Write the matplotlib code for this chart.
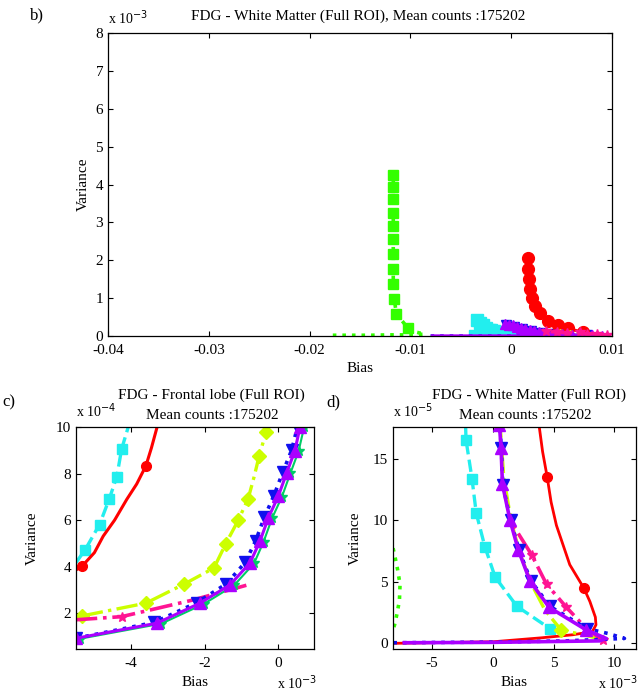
import matplotlib
matplotlib.use("Agg")
import matplotlib.pyplot as plt
import numpy as np

plt.rcParams['font.family'] = ['Liberation Serif', 'DejaVu Serif']
plt.rcParams['font.size'] = 11
plt.rcParams['axes.unicode_minus'] = False
plt.rcParams['xtick.direction'] = 'in'
plt.rcParams['ytick.direction'] = 'in'
plt.rcParams['xtick.top'] = True
plt.rcParams['ytick.right'] = True
plt.rcParams['xtick.major.size'] = 3.5
plt.rcParams['ytick.major.size'] = 3.5
plt.rcParams['axes.linewidth'] = 0.9

title_wm = "FDG - White Matter (Full ROI)"
title_fl = "FDG - Frontal lobe (Full ROI)"
counts = "Mean counts :175202"

# colours
c_green = '#33ff00'
c_cyan = '#22eeee'
c_red = '#ff0000'
c_yel = '#ccff00'
c_pink = '#ff1493'
c_purp = '#aa00ff'
c_blue = '#1010ee'
c_star = '#00cc66'

# ---- panel b: white matter, full range (bias, variance x1e-3)
green_b_x = [-0.0177, -0.0160, -0.0140, -0.0120, -0.0100, -0.0086, -0.0094, -0.0102,
             -0.0114, -0.0116, -0.0117, -0.0117, -0.0117, -0.0117, -0.0117, -0.0117,
             -0.0117, -0.0117, -0.0117]
green_b_y = [0.02, 0.02, 0.02, 0.03, 0.03, 0.05, 0.10, 0.20, 0.58, 0.99, 1.38, 1.78,
             2.17, 2.56, 2.91, 3.26, 3.61, 3.94, 4.25]
red_b_x = [0.0085, 0.0071, 0.0056, 0.0046, 0.0037, 0.0029, 0.0024, 0.0021, 0.0019,
           0.0018, 0.0017, 0.0017]
red_b_y = [0.02, 0.10, 0.20, 0.30, 0.40, 0.60, 0.78, 1.00, 1.25, 1.50, 1.78, 2.05]
cyan_b_x = [-0.0036, -0.0025, -0.0012, 0.0, 0.0047, 0.0030, 0.0020, 0.0010, 0.0002,
            -0.0003, -0.0007, -0.0011, -0.0014, -0.0017, -0.0020, -0.0022, -0.0025,
            -0.0028, -0.0031, -0.0034]
cyan_b_y = [0.01, 0.01, 0.01, 0.01, 0.012, 0.02, 0.03, 0.042, 0.054, 0.065, 0.079,
            0.092, 0.106, 0.13, 0.15, 0.17, 0.22, 0.28, 0.35, 0.42]
purp_b_x = [-0.0078, -0.004, 0.0, 0.004, 0.0090, 0.0080, 0.0070, 0.0060, 0.0050,
            0.0043, 0.0037, 0.0032, 0.0028, 0.0023, 0.0019, 0.0014, 0.0010, 0.0006,
            0.0002, -0.0002, -0.0006]
purp_b_y = [0.0, 0.0, 0.0, 0.0, 0.01, 0.015, 0.02, 0.03, 0.04, 0.05, 0.06, 0.08,
            0.10, 0.12, 0.15, 0.18, 0.22, 0.25, 0.28, 0.30, 0.33]
blue_b_x = [-0.0080, -0.004, 0.0, 0.005, 0.0108, 0.0075, 0.0052, 0.0038, 0.0029,
            0.0020, 0.0011, 0.0003, -0.0005]
blue_b_y = [0.0, 0.0, 0.0, 0.0, 0.005, 0.015, 0.03, 0.05, 0.08, 0.12, 0.18, 0.24, 0.30]
pink_b_x = [0.0095, 0.0085, 0.0075, 0.0068, 0.0055, 0.0045, 0.0035]
pink_b_y = [0.03, 0.05, 0.06, 0.10, 0.08, 0.10, 0.12]
yel_b_x = [0.0070, 0.0058, 0.0048]
yel_b_y = [0.02, 0.04, 0.08]

# ---- panel c: frontal lobe (bias x1e-3, variance x1e-4)
cyan_c_x = [-5.5, -5.25, -4.86, -4.60, -4.39, -4.26, -4.07]
cyan_c_y = [4.17, 4.73, 5.81, 6.89, 7.87, 9.05, 10.05]
red_c_x = [-5.6, -5.34, -5.0, -4.76, -4.45, -4.12, -3.85, -3.60, -3.45, -3.29]
red_c_y = [3.76, 4.01, 4.6, 5.31, 6.0, 6.89, 7.55, 8.33, 9.1, 10.03]
yel_c_x = [-5.34, -3.60, -2.56, -1.75, -1.43, -1.09, -0.82, -0.66, -0.52, -0.33]
yel_c_y = [1.88, 2.43, 3.25, 3.94, 4.98, 5.99, 6.92, 7.85, 8.76, 9.80]
pink_c_x = [-5.55, -4.26, -2.31, -0.82]
pink_c_y = [1.71, 1.85, 2.57, 3.22]
purp_c_x = [-5.5, -3.30, -2.13, -1.31, -0.77, -0.50, -0.27, 0.00, 0.23, 0.45, 0.59]
purp_c_y = [0.92, 1.57, 2.43, 3.22, 4.16, 5.09, 6.10, 7.03, 8.04, 8.98, 10.0]
blue_c_x = [-5.5, -3.38, -2.22, -1.42, -0.90, -0.62, -0.38, -0.12, 0.12, 0.36, 0.52]
blue_c_y = [0.92, 1.60, 2.45, 3.25, 4.18, 5.10, 6.12, 7.05, 8.05, 9.0, 10.0]
star_c_x = [-5.4, -3.18, -2.02, -1.20, -0.66, -0.40, -0.17, 0.10, 0.33, 0.55, 0.70]
star_c_y = [0.90, 1.55, 2.40, 3.20, 4.14, 5.07, 6.08, 7.01, 8.02, 8.96, 9.98]

# ---- panel d: white matter zoom (bias x1e-3, variance x1e-5)
red_d_x = [-8.3, 0.05, 4.0, 6.6, 8.2, 8.5, 8.45, 8.0, 7.51, 6.34, 5.24, 4.8, 4.48, 4.1, 3.8]
red_d_y = [0.0, 0.13, 0.45, 0.7, 0.95, 1.5, 2.13, 3.4, 4.48, 6.4, 9.6, 11.5, 13.53, 15.6, 17.8]
cyan_d_x = [-2.25, -2.21, -1.72, -1.37, -0.66, 0.19, 1.99, 4.70, 5.3]
cyan_d_y = [17.8, 16.54, 13.4, 10.6, 7.87, 5.39, 3.01, 1.2, 1.0]
green_d_x = [-8.4, -8.1, -7.85, -7.65, -7.7, -7.9, -8.1, -8.4]
green_d_y = [8.5, 7.2, 6.0, 4.8, 3.5, 2.4, 1.5, 0.6]
purp_d_x = [-7.3, 0.0, 5.0, 8.8, 9.34, 7.65, 4.64, 3.06, 2.10, 1.42, 0.79, 0.68, 0.54]
purp_d_y = [0.05, 0.08, 0.15, 0.2, 0.4, 1.12, 2.93, 5.07, 7.6, 10.0, 12.94, 15.88, 17.8]
blue_d_x = [-8.2, 0.0, 6.0, 10.85, 9.5, 7.75, 4.72, 3.12, 2.16, 1.46, 0.82, 0.70, 0.56]
blue_d_y = [0.05, 0.1, 0.2, 0.4, 0.8, 1.2, 3.0, 5.1, 7.6, 10.0, 12.9, 15.9, 17.8]
pink_d_x = [9.07, 7.7, 6.07, 4.43, 3.2, 1.42]
pink_d_y = [0.26, 1.2, 2.93, 4.8, 7.2, 10.0]
yel_d_x = [9.0, 7.5, 5.65, 4.3, 3.2, 2.2, 1.5, 0.9, 0.6]
yel_d_y = [0.3, 0.7, 1.06, 2.7, 4.8, 7.4, 10.0, 13.5, 17.8]

W, H = 639, 692
fig = plt.figure(figsize=(W / 100, H / 100), dpi=100)


def box(l, t, r, b):
    return [l / W, 1 - b / H, (r - l) / W, (b - t) / H]


def ftext(x, y, s, **kw):
    fig.text(x / W, 1 - y / H, s, **kw)


# ---------------- panel b
ax = fig.add_axes(box(108, 33, 612, 336))
ax.plot(green_b_x, green_b_y, ':', color=c_green, lw=2.6, marker='s', ms=7.5,
        markevery=list(range(7, len(green_b_x))))
ax.plot(cyan_b_x, cyan_b_y, '--', color=c_cyan, lw=2.2, marker='s', ms=8)
ax.plot(blue_b_x, blue_b_y, ':', color=c_blue, lw=2.6, marker='v', ms=7,
        markevery=list(range(4, len(blue_b_x))))
ax.plot(red_b_x, red_b_y, '-', color=c_red, lw=2.2, marker='o', ms=8.5,
        markevery=list(range(1, len(red_b_x))))
ax.plot(yel_b_x, yel_b_y, '-.', color=c_yel, lw=2.2, marker='D', ms=4)
ax.plot(purp_b_x, purp_b_y, '-', color=c_purp, lw=2.4, marker='^', ms=7,
        markevery=list(range(4, len(purp_b_x))))
ax.plot(pink_b_x, pink_b_y, '-.', color=c_pink, lw=2.4, marker='*', ms=7)
ax.set_xlim(-0.04, 0.01)
ax.set_ylim(0, 8)
ax.set_xticks([-0.04, -0.03, -0.02, -0.01, 0, 0.01])
ax.set_xticklabels(['-0.04', '-0.03', '-0.02', '-0.01', '0', '0.01'])
ax.set_yticks(range(0, 9))
ax.set_yticklabels([str(v) for v in range(0, 9)])
ax.tick_params(axis='x', pad=6)
ax.set_xlabel('Bias', labelpad=3)
ax.set_ylabel('Variance', labelpad=4)
ftext(108, 24, r'x 10$^{-3}$', fontsize=10)
ftext(358, 20, title_wm + ", " + counts, ha='center', fontsize=11)
ftext(30, 19, 'b)', fontsize=12)

# ---------------- panel c
ax = fig.add_axes(box(76, 427, 314, 649))
ax.plot(cyan_c_x, cyan_c_y, '--', color=c_cyan, lw=2.4, marker='s', ms=7,
        markevery=[1, 2, 3, 4, 5])
ax.plot(red_c_x, red_c_y, '-', color=c_red, lw=2.2, marker='o', ms=7, markevery=[1, 7])
ax.plot(yel_c_x, yel_c_y, '-.', color=c_yel, lw=2.4, marker='D', ms=7,
        markevery=[0, 1, 2, 3, 4, 5, 6, 8, 9])
ax.plot(pink_c_x, pink_c_y, '-.', color=c_pink, lw=2.6, marker='*', ms=7, markevery=[1])
ax.plot(star_c_x, star_c_y, '-', color=c_star, lw=1.5, marker='*', ms=7)
ax.plot(blue_c_x, blue_c_y, ':', color=c_blue, lw=2.6, marker='v', ms=9)
ax.plot(purp_c_x, purp_c_y, '-', color=c_purp, lw=2.2, marker='^', ms=9)
ax.set_xlim(-5.5, 0.97)
ax.set_ylim(0.46, 10)
ax.set_xticks([-4, -2, 0])
ax.set_xticklabels(['-4', '-2', '0'])
ax.set_yticks([2, 4, 6, 8, 10])
ax.set_yticklabels(['2', '4', '6', '8', '10'])
ax.tick_params(axis='x', pad=6)
ax.set_xlabel('Bias', labelpad=4)
ax.set_ylabel('Variance', labelpad=12)
ftext(76, 417, r'x 10$^{-4}$', fontsize=10)
ftext(277, 689, r'x 10$^{-3}$', fontsize=10)
ftext(211, 399, title_fl, ha='center', fontsize=11)
ftext(212, 419, counts, ha='center', fontsize=11)
ftext(2, 406, 'c)', fontsize=12)

# ---------------- panel d
ax = fig.add_axes(box(393, 427, 636, 649))
ax.plot(green_d_x, green_d_y, ':', color=c_green, lw=2.6)
ax.plot(cyan_d_x, cyan_d_y, '--', color=c_cyan, lw=2.4, marker='s', ms=7,
        markevery=[1, 2, 3, 4, 5, 6, 7])
ax.plot(red_d_x, red_d_y, '-', color=c_red, lw=2.0, marker='o', ms=7, markevery=[8, 12])
ax.plot(yel_d_x, yel_d_y, '-.', color=c_yel, lw=2.4, marker='D', ms=7, markevery=[2])
ax.plot(pink_d_x, pink_d_y, '-.', color=c_pink, lw=2.6, marker='*', ms=7,
        markevery=[0, 1, 2, 3, 4])
ax.plot(blue_d_x, blue_d_y, ':', color=c_blue, lw=2.6, marker='v', ms=9,
        markevery=list(range(5, len(blue_d_x))))
ax.plot(purp_d_x, purp_d_y, '-', color=c_purp, lw=2.6, marker='^', ms=9,
        markevery=list(range(5, len(purp_d_x))))
ax.set_xlim(-8.23, 11.8)
ax.set_ylim(-0.46, 17.6)
ax.set_xticks([-5, 0, 5, 10])
ax.set_xticklabels(['-5', '0', '5', '10'])
ax.set_yticks([0, 5, 10, 15])
ax.set_yticklabels(['0', '5', '10', '15'])
ax.tick_params(axis='x', pad=6)
ax.set_xlabel('Bias', labelpad=4)
ax.set_ylabel('Variance', labelpad=8)
ftext(393, 417, r'x 10$^{-5}$', fontsize=10)
ftext(598, 689, r'x 10$^{-3}$', fontsize=10)
ftext(529, 399, title_wm, ha='center', fontsize=11)
ftext(525, 419, counts, ha='center', fontsize=11)
ftext(326, 406, 'd)', fontsize=12)

fig.savefig('out.png', dpi=100)
